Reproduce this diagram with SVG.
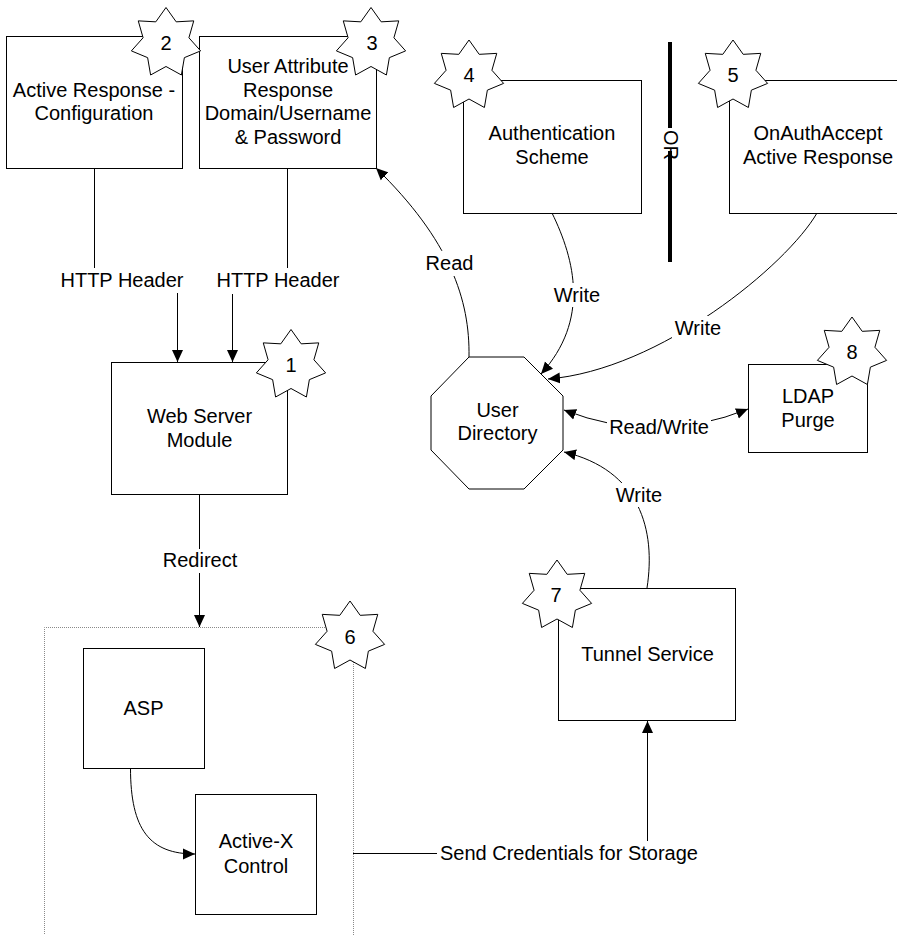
<svg xmlns="http://www.w3.org/2000/svg" xmlns:xlink="http://www.w3.org/1999/xlink" width="897" height="935" viewBox="0 0 897 935">
<style>
.box{fill:#fff;stroke:#000;stroke-width:1}
.t{font-family:"Liberation Sans",Arial,sans-serif;font-size:20px;fill:#000;text-anchor:middle}
.ts{font-family:"Liberation Sans",Arial,sans-serif;font-size:20px;fill:#000}
.c{fill:none;stroke:#000;stroke-width:1}
.lb{fill:#fff;stroke:none}
.star{fill:#fff;stroke:#000;stroke-width:1}
.dot{fill:none;stroke:#8a8a8a;stroke-width:1;stroke-dasharray:1 1}
</style>
<defs>
<marker id="arr" viewBox="0 0 12 12" refX="12" refY="6" markerWidth="12" markerHeight="12" markerUnits="userSpaceOnUse" orient="auto-start-reverse">
<path d="M0,0.5 L12,6 L0,11.5 z" fill="#000"/>
</marker>
<polygon id="star" points="0,-35.5 10.2,-21.17 27.75,-22.13 22.91,-5.23 34.61,7.9 18.37,14.65 15.4,31.99 0,23.5 -15.4,31.99 -18.37,14.65 -34.61,7.9 -22.91,-5.23 -27.75,-22.13 -10.2,-21.17"/>
</defs>
<rect width="897" height="935" fill="#fff"/>

<g id="container-6">
<path class="dot" d="M44.5,940 V627.5 H353.5 V940"/>
</g>

<g id="connectors">
<path class="c" d="M94.5,168 V280 H177.5 V362" marker-end="url(#arr)"/>
<path class="c" d="M287.5,168 V280 H232.5 V362" marker-end="url(#arr)"/>
<path class="c" d="M199.5,494 V627" marker-end="url(#arr)"/>
<path class="c" d="M469,357 C470,300 450,240 376,168" marker-end="url(#arr)"/>
<path class="c" d="M552,213 C575,260 590,320 541,374" marker-end="url(#arr)"/>
<path class="c" d="M817,213 C787,265 660,370 548,379" marker-end="url(#arr)"/>
<path class="c" d="M564,410 Q656,446 748,409" marker-start="url(#arr)" marker-end="url(#arr)"/>
<path class="c" d="M647,588 C656,530 640,470 564,452" marker-end="url(#arr)"/>
<path class="c" d="M130.5,768 C130.5,830 150,854 195,854" marker-end="url(#arr)"/>
<path class="c" d="M353,853.5 H647.5 V721" marker-end="url(#arr)"/>

<rect class="lb" x="57" y="268" width="130" height="25"/>
<text class="t" x="122" y="287">HTTP Header</text>
<rect class="lb" x="213" y="268" width="130" height="26"/>
<text class="t" x="278" y="287">HTTP Header</text>
<rect class="lb" x="159" y="549" width="82" height="24"/>
<text class="t" x="200" y="567">Redirect</text>
<rect class="lb" x="423" y="251" width="53" height="25"/>
<text class="t" x="449.5" y="270">Read</text>
<rect class="lb" x="551" y="283" width="52" height="24"/>
<text class="t" x="577" y="302">Write</text>
<rect class="lb" x="672" y="316" width="52" height="24"/>
<text class="t" x="698" y="335">Write</text>
<rect class="lb" x="607" y="415" width="104" height="24"/>
<text class="t" x="659" y="434">Read/Write</text>
<rect class="lb" x="613" y="483" width="52" height="24"/>
<text class="t" x="639" y="502">Write</text>
<rect class="lb" x="437" y="841" width="264" height="25"/>
<text class="ts" x="440" y="860">Send Credentials for Storage</text>
</g>

<g id="or-separator">
<rect x="668" y="42" width="4" height="220" fill="#000"/>
<rect x="662" y="128" width="18" height="23" fill="#fff"/>
<text class="ts" transform="translate(664,130) rotate(90)">OR</text>
</g>

<g id="node-2">
<rect class="box" x="6.5" y="36.5" width="176" height="132"/>
<text class="t" x="94" y="97">Active Response -</text>
<text class="t" x="94" y="119.5">Configuration</text>
</g>
<g id="node-3">
<rect class="box" x="199.5" y="36.5" width="177" height="132"/>
<text class="t" x="288" y="73">User Attribute</text>
<text class="t" x="288" y="96.5">Response</text>
<text class="t" x="288" y="120">Domain/Username</text>
<text class="t" x="288" y="143.5">&amp; Password</text>
</g>
<g id="node-4">
<rect class="box" x="463.5" y="80.5" width="178" height="133"/>
<text class="t" x="552" y="140">Authentication</text>
<text class="t" x="552" y="164">Scheme</text>
</g>
<g id="node-5">
<rect class="box" x="729.5" y="80.5" width="180" height="133"/>
<text class="t" x="818" y="140">OnAuthAccept</text>
<text class="t" x="818" y="164">Active Response</text>
</g>
<g id="node-1">
<rect class="box" x="111.5" y="362.5" width="176" height="132"/>
<text class="t" x="199.5" y="423">Web Server</text>
<text class="t" x="199.5" y="447">Module</text>
</g>
<g id="user-directory">
<polygon class="box" points="469,357 524,357 563,396 563,450 524,489 469,489 431,450 431,396"/>
<text class="t" x="497.5" y="417">User</text>
<text class="t" x="497.5" y="440">Directory</text>
</g>
<g id="node-8">
<rect class="box" x="748.5" y="364.5" width="119" height="88"/>
<text class="t" x="808" y="403">LDAP</text>
<text class="t" x="808" y="427">Purge</text>
</g>
<g id="node-7">
<rect class="box" x="558.5" y="588.5" width="177" height="132"/>
<text class="t" x="647.5" y="661">Tunnel Service</text>
</g>
<g id="asp">
<rect class="box" x="83.5" y="648.5" width="121" height="120"/>
<text class="t" x="143.5" y="715">ASP</text>
</g>
<g id="activex">
<rect class="box" x="195.5" y="794.5" width="121" height="120"/>
<text class="t" x="256" y="848">Active-X</text>
<text class="t" x="256" y="873">Control</text>
</g>

<g id="badge-1"><use xlink:href="#star" class="star" x="291" y="365"/><text class="t" x="291" y="372">1</text></g>
<g id="badge-2"><use xlink:href="#star" class="star" x="166" y="43"/><text class="t" x="166" y="50">2</text></g>
<g id="badge-3"><use xlink:href="#star" class="star" x="371" y="43"/><text class="t" x="372" y="50">3</text></g>
<g id="badge-4"><use xlink:href="#star" class="star" x="469" y="75.5"/><text class="t" x="469" y="82">4</text></g>
<g id="badge-5"><use xlink:href="#star" class="star" x="733" y="75.5"/><text class="t" x="733" y="82">5</text></g>
<g id="badge-6"><use xlink:href="#star" class="star" x="350" y="636.5"/><text class="t" x="350" y="643.5">6</text></g>
<g id="badge-7"><use xlink:href="#star" class="star" x="557" y="595.5"/><text class="t" x="556" y="602">7</text></g>
<g id="badge-8"><use xlink:href="#star" class="star" x="852" y="352.5"/><text class="t" x="852" y="359">8</text></g>
</svg>
